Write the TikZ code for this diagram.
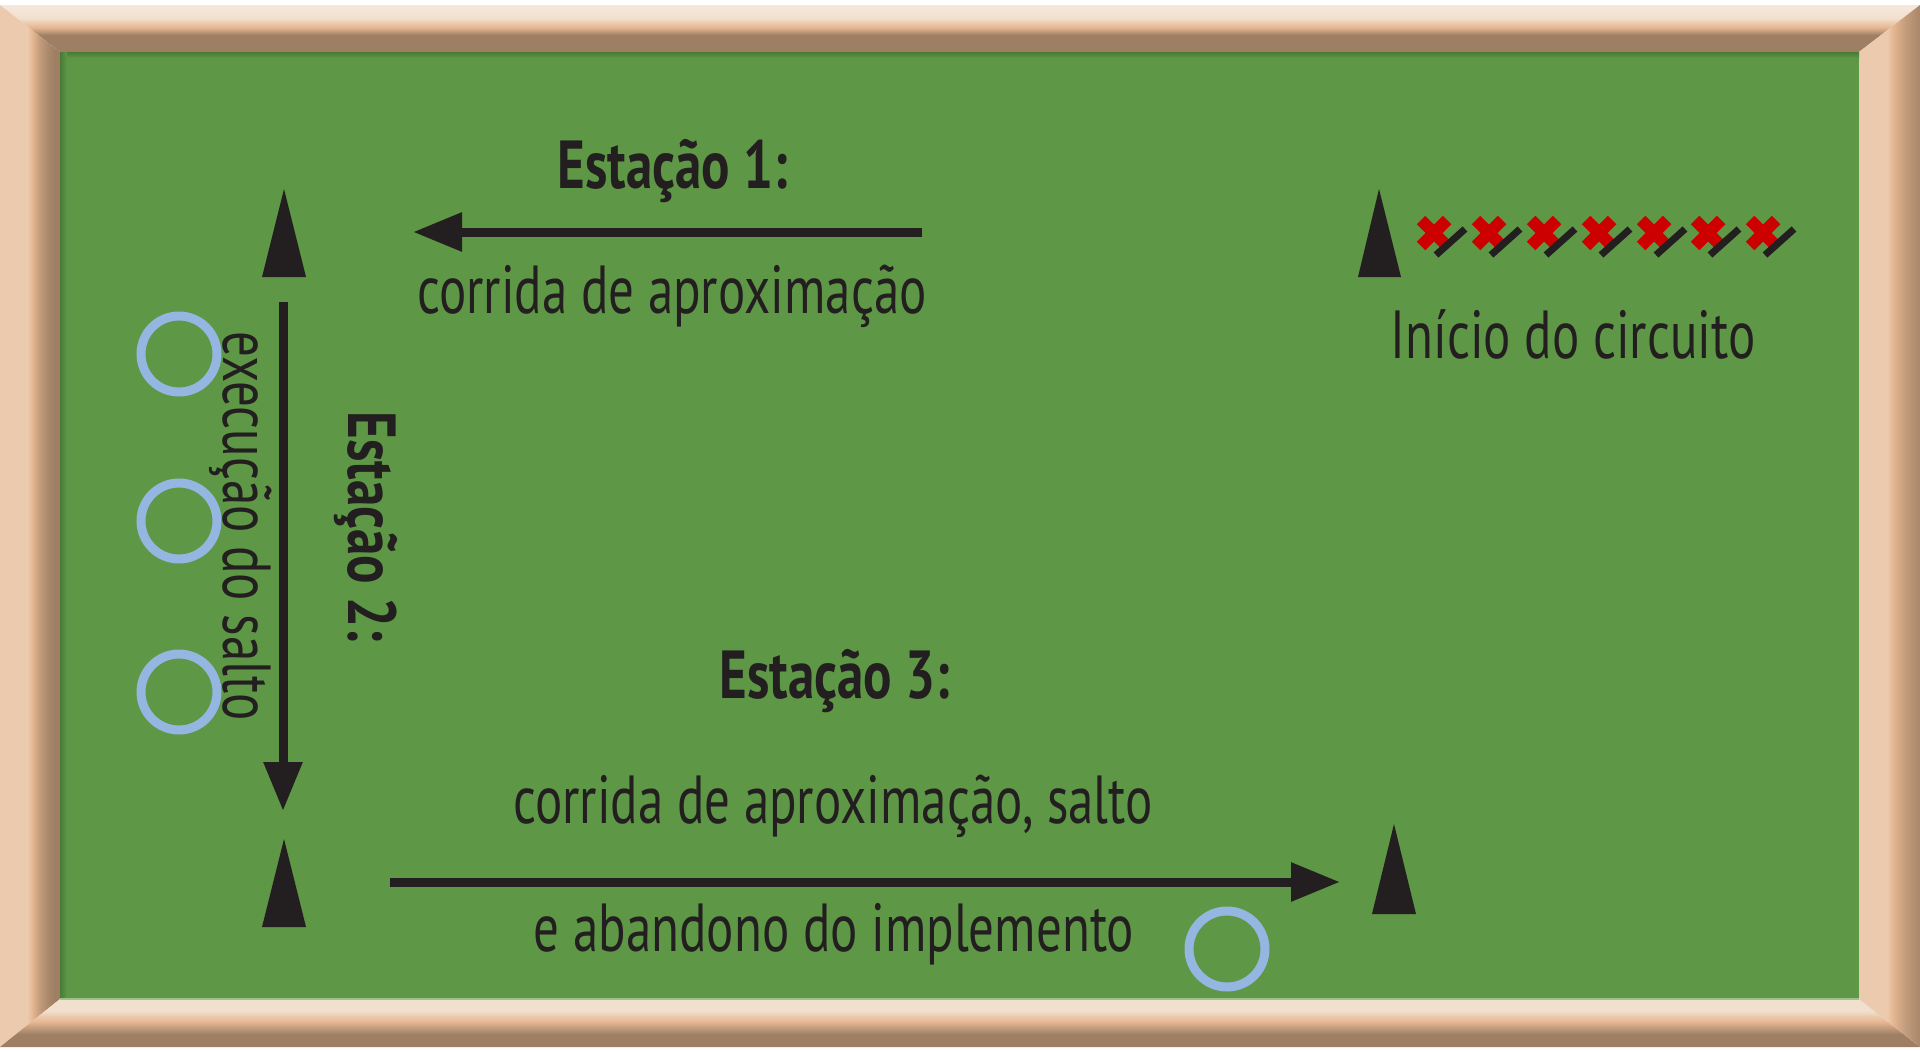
\documentclass[tikz,border=0pt]{standalone}
\usepackage{fontspec}
\setmainfont{PT Sans}[FakeStretch=0.75, BoldFeatures={FakeStretch=0.78}]
\usetikzlibrary{arrows.meta}
\definecolor{ink}{HTML}{231F20}
\definecolor{field}{HTML}{5E9746}
\definecolor{fielddark}{HTML}{4A7A36}
\definecolor{fieldlight}{HTML}{9CC48A}
\definecolor{hoopblue}{HTML}{94B6E0}
\definecolor{xred}{HTML}{CC0000}
\definecolor{fbrown}{HTML}{9E7F64}
\definecolor{fbrowntwo}{HTML}{A88669}
\definecolor{fmid}{HTML}{C29C7C}
\definecolor{fpeach}{HTML}{E5B690}
\definecolor{fbeige}{HTML}{EBCAAE}
\definecolor{flight}{HTML}{F2E0CE}
\definecolor{fwhite}{HTML}{F5E8DC}
\pgfdeclareverticalshading{topband}{100bp}{color(0bp)=(fbrown); color(25bp)=(fbrown); color(43bp)=(fbrown); color(47bp)=(fmid); color(51bp)=(fpeach); color(61bp)=(flight); color(75bp)=(fwhite); color(100bp)=(fwhite)}
\pgfdeclarehorizontalshading{leftband}{100bp}{color(0bp)=(fbeige); color(25bp)=(fbeige); color(48bp)=(fbeige); color(52bp)=(fpeach); color(58bp)=(fmid); color(66bp)=(fbrowntwo); color(71bp)=(fbrown); color(100bp)=(fbrown)}
\pgfdeclareverticalshading{bottomband}{100bp}{color(0bp)=(fbrown); color(25bp)=(fbrown); color(38bp)=(fbrown); color(45bp)=(fmid); color(51bp)=(fpeach); color(57bp)=(fbeige); color(63bp)=(flight); color(75bp)=(flight); color(100bp)=(flight)}
\pgfdeclarehorizontalshading{rightband}{100bp}{color(0bp)=(fbeige); color(25bp)=(fbeige); color(48bp)=(fbeige); color(53bp)=(fpeach); color(63bp)=(fmid); color(75bp)=(fbrowntwo); color(100bp)=(fbrowntwo)}
\begin{document}
\begin{tikzpicture}[x=1pt,y=-1pt,
  txt/.style={text=ink, inner sep=0pt, font=\fontsize{68}{80}\selectfont},
  btxt/.style={text=ink, inner sep=0pt, font=\fontsize{68}{80}\selectfont\bfseries},
  runarrow/.style={draw=ink, line width=9pt, -{Triangle[length=49pt,width=37pt]}},
  cone/.style={fill=ink},
  hoop/.style={draw=hoopblue, line width=9pt},
  xmark/.style={draw=xred, line width=12pt},
  slashmark/.style={draw=ink, line width=7pt}]
\useasboundingbox (0,0) rectangle (1920,1052);
\fill[white] (0,0) rectangle (1920,1052);
% frame
\shade[shading=topband] (0,5) -- (1920,5) -- (1859,52) -- (60,52) -- cycle;
\shade[shading=leftband] (0,5) -- (60,52) -- (60,999) -- (0,1047) -- cycle;
\shade[shading=bottomband] (0,1047) -- (60,999) -- (1859,999) -- (1920,1047) -- cycle;
\shade[shading=rightband] (1920,5) -- (1859,52) -- (1859,999) -- (1920,1047) -- cycle;
% field
\fill[field] (60,52) rectangle (1859,999);
\shade[top color=fielddark, bottom color=field] (60,52) rectangle (1859,58);
\shade[left color=fielddark, right color=field] (60,52) rectangle (67,999);
\fill[fieldlight] (60,997.5) rectangle (1859,999.5);
% cones
\fill[cone] (284,189) -- (306,277) -- (262,277) -- cycle;
\fill[cone] (284,839) -- (306,927) -- (262,927) -- cycle;
\fill[cone] (1379,189) -- (1401,277) -- (1358,277) -- cycle;
\fill[cone] (1394,824) -- (1416,914) -- (1372,914) -- cycle;
% hoops
\draw[hoop] (179,354) circle (38);
\draw[hoop] (179,521) circle (38);
\draw[hoop] (179,692) circle (38);
\draw[hoop] (1227,949) circle (38);
% start marks
\foreach \c in {1434,1489,1544,1599,1654,1708,1763}{
  \draw[xmark] (\c-13,220) -- (\c+13,246);
  \draw[xmark] (\c-13,246) -- (\c+13,220);
  \draw[slashmark] (\c+2,255) -- (\c+31,229);
}
% arrows
\coordinate (s1a) at (922,232);
\coordinate (s1b) at (413,232);
\coordinate (s2a) at (283,302);
\coordinate (s2b) at (283,811);
\coordinate (s3a) at (390,882);
\coordinate (s3b) at (1340,882);
\draw[runarrow] (s1a) -- (s1b);
\draw[runarrow] (s2a) -- (s2b);
\draw[runarrow] (s3a) -- (s3b);
% texts
\node[btxt, anchor=base] (t1) at (673,188) {Estação 1:};
\node[txt, anchor=base] (t1b) at (672,313) {corrida de aproximação};
\node[btxt, anchor=base, rotate=-90] (t2) at (348,527) {Estação 2:};
\node[txt, anchor=base, rotate=-90] (t2b) at (223,526) {execução do salto};
\node[btxt, anchor=base] (t3) at (835,698) {Estação 3:};
\node[txt, anchor=base] (t3b) at (833,823) {corrida de aproximação, salto};
\node[txt, anchor=base] (t3c) at (834,951) {e abandono do implemento};
\node[txt, anchor=base] (t0) at (1573,358) {Início do circuito};
\end{tikzpicture}
\end{document}
